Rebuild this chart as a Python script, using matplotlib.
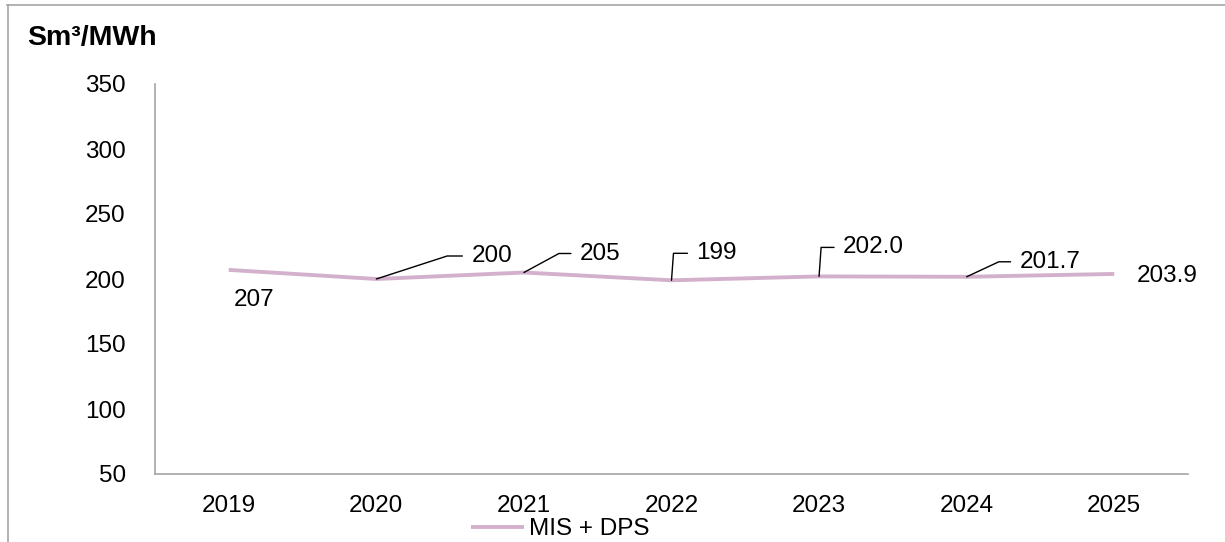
import matplotlib
matplotlib.use('Agg')
import matplotlib.pyplot as plt
from matplotlib.lines import Line2D
import numpy as np

# ---------------
# Data
# ---------------
years = ['2019', '2020', '2021', '2022', '2023', '2024', '2025']
values = [207, 200, 205, 199, 202.0, 201.7, 203.9]
value_labels = ['207', '200', '205', '199', '202.0', '201.7', '203.9']
series_name = 'MIS + DPS'
unit_label = 'Sm\u00b3/MWh'
y_ticks = [50, 100, 150, 200, 250, 300, 350]

# label placement (pixel offsets from point: text dx, dy, leader angle or None)
label_pos = [(5, -30, None), (95, 23, 18), (56, 19, 28.5), (25, 27, 85.8),
             (24, 29, 86), (53, 15, 25), (23, -2, None)]

# ---------------
# Style
# ---------------
plt.rcParams['font.family'] = ['Liberation Sans', 'DejaVu Sans']
fs = 17.5
line_color = '#d3b1cd'
grey = '#a6a6a6'

fig = plt.figure(figsize=(12.25, 5.42), dpi=100)
ax = fig.add_axes([155 / 1225, 1 - 474 / 542, (1188 - 155) / 1225, (474 - 84) / 542])

x = np.arange(len(years))
ax.plot(x, values, color=line_color, lw=2.8, solid_capstyle='butt', label=series_name)

ax.set_xlim(-0.5, len(years) - 0.5)
ax.set_ylim(50, 350)
ax.set_yticks(y_ticks)
ax.set_xticks(x)
ax.set_xticklabels(years)
ax.tick_params(axis='both', length=0, labelsize=fs)
ax.tick_params(axis='y', pad=21)
ax.tick_params(axis='x', pad=15)

for side in ['top', 'right']:
    ax.spines[side].set_visible(False)
for side in ['left', 'bottom']:
    ax.spines[side].set_color(grey)
    ax.spines[side].set_linewidth(1.2)

# data labels with Excel style leader lines
for xi, v, lab, (dx, dy, ang) in zip(x, values, value_labels, label_pos):
    if ang is None:
        ax.annotate(lab, xy=(xi, v), xytext=(dx, dy), textcoords='offset pixels',
                    ha='left', va='center', fontsize=fs)
    else:
        ax.annotate(lab, xy=(xi, v), xytext=(dx, dy), textcoords='offset pixels',
                    ha='left', va='center', fontsize=fs,
                    arrowprops=dict(arrowstyle='-', color='black', lw=1.0,
                                    relpos=(0, 0.5), shrinkA=4.5, shrinkB=0,
                                    connectionstyle='angle,angleA=0,angleB=%g,rad=0' % ang))

# unit title
fig.text(27 / 1225, 1 - 38 / 542, unit_label, fontsize=20.5, fontweight='bold',
         ha='left', va='center')

# legend
fig.legend(loc='center', bbox_to_anchor=(560 / 1225, 1 - 529 / 542), frameon=False,
           fontsize=fs, handlelength=2.2, handletextpad=0.2, borderpad=0)

# cropped chart frame
fig.add_artist(Line2D([7 / 1225, 1], [1 - 5 / 542, 1 - 5 / 542], color=grey, lw=1.2,
                      transform=fig.transFigure))
fig.add_artist(Line2D([7.5 / 1225, 7.5 / 1225], [0, 1 - 5 / 542], color=grey, lw=1.2,
                      transform=fig.transFigure))

fig.savefig('out.png', dpi=100)
